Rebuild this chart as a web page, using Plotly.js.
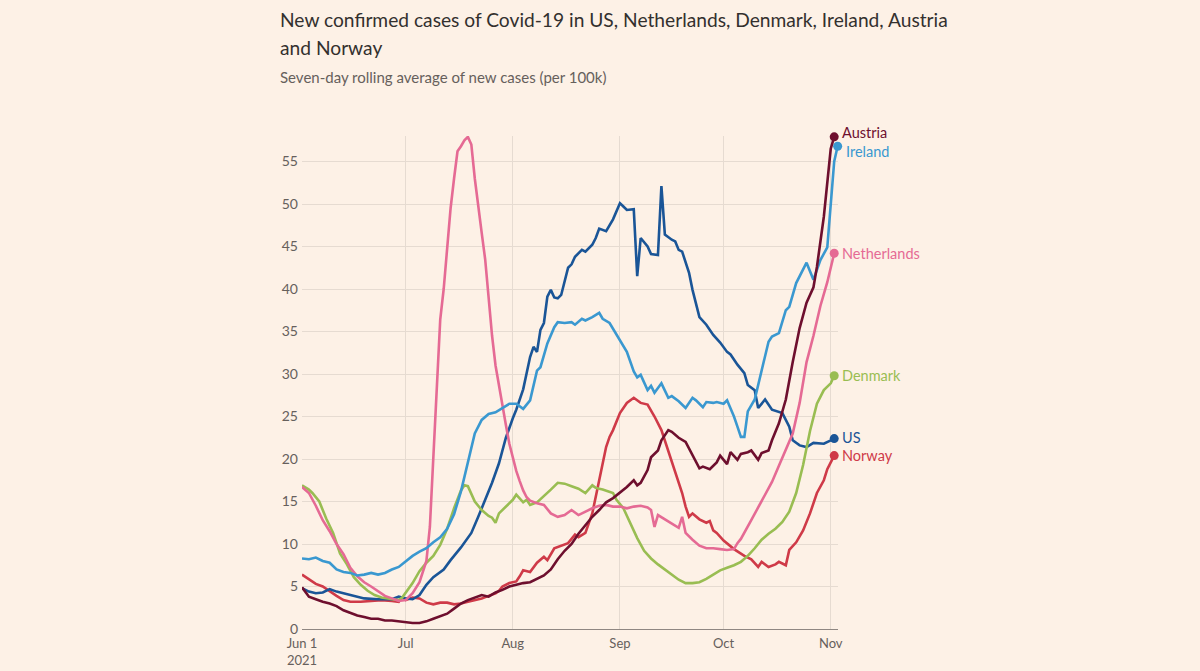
<!DOCTYPE html>
<html>
<head>
<meta charset="utf-8">
<script src="https://cdn.plot.ly/plotly-3.0.1.min.js"></script>
<style>
  html, body { margin: 0; padding: 0; background: #fdf1e6; }
  #chart { width: 1200px; height: 671px; }
</style>
</head>
<body>
<div id="chart"></div>
<script>
// ---- Data: day offsets from 2021-06-01 and seven-day average cases per 100k ----
const startDate = '2021-06-01';

const usDays = [0,2,4,6,8,10,12,15,18,22,26,28,30,32,34,36,38,41,43,46,49,51,53,55,57,59,61,62,64,65,66,67,68,69,70,71,72,73,74,75,77,78,79,81,82,84,85,86,88,90,92,93,94,96,97,98,100,101,103,104,105,107,108,109,110,112,113,115,117,119,121,123,124,126,128,129,131,132,134,136,139,141,142,144,146,148,151,153,154];
const usVals = [4.8,4.4,4.2,4.3,4.7,4.4,4.2,3.9,3.6,3.5,3.5,3.8,3.6,3.5,4.0,5.2,6.1,7.0,8.1,9.6,11.3,13.2,15.2,17.2,19.5,22.5,24.8,25.8,28.2,30.1,32.0,33.2,32.6,35.2,36.0,39.1,39.9,39.0,38.9,39.3,42.5,42.9,43.8,44.6,44.4,45.2,46.0,47.1,46.8,48.2,50.1,49.7,49.3,49.4,41.5,46.0,45.0,44.1,44.0,52.1,46.4,45.8,45.6,44.6,44.4,41.9,39.9,36.7,35.8,34.6,33.7,32.6,32.3,31.1,30.1,28.7,28.1,26.0,27.0,25.8,25.4,23.8,22.2,21.6,21.4,21.9,21.8,22.2,22.4];

const irelandDays = [0,2,4,6,8,10,12,14,16,18,20,22,24,26,28,30,32,34,36,38,40,42,44,46,48,50,52,54,56,58,60,62,64,66,68,69,71,73,74,76,78,79,81,82,84,86,87,89,92,94,96,97,98,100,101,102,104,106,107,109,111,113,114,116,117,119,120,122,123,125,126,127,128,129,131,133,135,136,138,140,141,143,146,148,150,152,153,154,155];
const irelandVals = [8.3,8.2,8.4,8.0,7.8,7.0,6.7,6.6,6.3,6.4,6.6,6.4,6.6,7.0,7.3,8.0,8.6,9.1,9.5,10.2,10.8,11.8,13.5,16.2,19.5,23.0,24.6,25.3,25.5,26.0,26.5,26.5,25.9,26.9,30.4,30.8,33.6,35.5,36.1,36.0,36.1,35.8,36.5,36.3,36.7,37.2,36.5,36.0,34.0,32.6,30.3,29.6,29.9,28.1,28.6,27.8,28.9,27.2,27.4,26.8,26.0,27.2,26.9,26.1,26.7,26.6,26.7,26.5,26.9,25.0,23.8,22.6,22.6,25.6,27.0,30.5,33.8,34.4,34.8,37.5,37.9,40.7,43.1,41.1,43.4,44.9,50.0,55.0,56.8];

const netherlandsDays = [0,2,4,6,8,10,12,14,16,18,20,22,24,26,28,30,32,34,36,37,38,39,40,41,42,43,44,45,46,47,48,49,50,51,52,53,54,55,56,57,58,59,60,61,62,63,64,65,66,68,70,72,74,76,78,80,82,84,86,88,90,92,94,96,98,100,101,102,103,105,107,109,110,111,113,115,117,119,121,123,125,126,127,128,130,132,134,136,138,140,142,144,146,148,150,152,154];
const netherlandsVals = [16.7,16.0,14.5,12.8,11.5,10.0,8.8,7.2,6.2,5.5,5.0,4.4,3.9,3.6,3.3,3.4,4.2,5.5,8.0,12.0,20.0,28.0,36.4,40.0,45.0,49.5,53.0,56.2,56.8,57.5,57.9,57.0,53.0,49.5,46.6,43.5,39.0,34.5,31.0,28.5,26.0,24.0,21.8,20.0,18.6,17.4,16.3,15.5,15.1,14.8,14.6,13.6,13.2,13.4,14.0,13.4,13.8,14.2,14.5,14.6,14.4,14.4,14.2,14.4,14.5,14.3,14.0,12.0,13.4,12.9,12.5,11.9,13.2,11.3,10.5,9.8,9.5,9.5,9.4,9.3,9.4,10.1,10.6,11.3,12.8,14.3,15.8,17.3,19.2,21.0,23.0,26.6,31.4,34.5,38.0,40.8,44.2];

const denmarkDays = [0,2,3,5,7,9,11,13,15,17,19,21,23,26,28,29,30,32,34,36,38,40,42,44,46,47,48,49,50,52,54,55,56,57,59,61,62,64,65,66,68,70,72,74,76,78,80,82,84,85,87,90,91,93,95,97,99,101,103,105,107,109,111,113,115,117,119,121,123,125,127,129,131,133,135,137,139,141,143,145,147,149,151,153,154];
const denmarkVals = [16.9,16.4,16.0,15.0,13.0,11.3,8.9,7.6,6.1,5.2,4.5,4.0,3.7,3.5,3.4,3.7,4.3,5.4,6.8,7.8,8.6,9.9,11.8,14.2,16.3,16.9,16.8,15.9,15.0,14.0,13.3,13.1,12.5,13.6,14.4,15.2,15.8,14.9,15.2,14.6,14.9,15.6,16.4,17.2,17.1,16.8,16.5,16.0,16.9,16.6,16.4,16.0,15.2,14.2,12.4,10.7,9.2,8.3,7.6,7.0,6.4,5.8,5.4,5.4,5.5,5.9,6.4,6.9,7.2,7.5,7.9,8.6,9.5,10.5,11.2,11.8,12.6,13.8,16.0,19.3,23.3,26.5,28.1,28.9,29.8];

const austriaDays = [0,2,4,6,8,10,12,14,16,18,20,22,24,26,28,30,32,34,36,38,40,42,44,46,48,50,52,54,56,58,60,62,64,66,68,70,72,74,76,78,80,82,84,86,88,90,92,94,96,97,98,100,101,103,104,106,107,109,111,113,115,116,118,120,121,123,124,126,127,129,130,132,133,135,136,138,140,142,144,146,148,149,151,153,154];
const austriaVals = [4.9,3.8,3.5,3.2,3.0,2.7,2.2,1.9,1.6,1.4,1.2,1.2,1.0,1.0,0.9,0.8,0.7,0.7,0.9,1.2,1.5,1.8,2.4,3.0,3.4,3.7,4.0,3.8,4.3,4.6,5.0,5.2,5.4,5.5,5.9,6.3,7.0,8.2,9.2,10.0,11.2,12.2,13.2,14.0,14.9,15.4,16.0,16.7,17.5,16.9,17.2,18.7,20.2,21.0,22.2,23.4,23.2,22.5,22.0,20.5,18.9,19.1,18.8,19.6,20.4,19.4,20.8,19.9,20.6,20.8,21.0,19.9,20.7,21.0,22.2,24.2,27.0,31.4,35.4,38.4,40.2,42.6,48.5,56.5,57.9];

const norwayDays = [0,2,4,6,8,10,12,14,17,20,23,26,28,29,30,32,34,36,38,40,42,44,46,48,50,52,54,56,57,58,60,62,63,64,66,68,70,71,73,75,77,79,80,82,84,86,88,89,90,92,94,96,98,100,102,104,106,108,110,111,112,113,115,117,118,119,120,122,125,128,130,132,133,135,137,138,140,141,143,145,147,149,151,152,154];
const norwayVals = [6.4,5.8,5.3,5.0,4.4,3.9,3.4,3.2,3.2,3.3,3.4,3.3,3.2,3.7,3.4,3.7,3.6,3.1,2.9,3.1,3.1,2.9,3.0,3.2,3.4,3.6,3.9,4.2,4.5,5.0,5.4,5.6,6.2,6.9,6.7,7.8,8.5,8.1,9.5,9.8,10.1,11.1,10.8,11.3,13.6,17.5,21.4,22.6,23.4,25.4,26.6,27.2,26.6,26.4,25.0,23.4,21.0,18.5,16.0,14.4,13.2,13.6,12.9,12.5,12.7,11.6,11.3,10.4,9.4,8.6,8.2,7.3,7.9,7.3,7.6,7.9,7.5,9.3,10.2,11.6,13.6,16.0,17.5,18.8,20.4];

const seriesNames = ['Austria','Ireland','Netherlands','Denmark','US','Norway'];
const tickVals = ['2021-06-01','2021-07-01','2021-08-01','2021-09-01','2021-10-01','2021-11-01'];
const tickText = ['Jun 1<br>2021','Jul','Aug','Sep','Oct','Nov'];

// ---- Build ----
function toDate(d) {
  const t = new Date(startDate + 'T00:00:00Z').getTime() + d * 86400000;
  return new Date(t).toISOString().slice(0, 10);
}

const series = [
  {name: 'Norway',      days: norwayDays,      vals: norwayVals,      color: '#cf3a48', yshift: 0},
  {name: 'US',          days: usDays,          vals: usVals,          color: '#1a5597', yshift: 1},
  {name: 'Denmark',     days: denmarkDays,     vals: denmarkVals,     color: '#99bd52', yshift: 0},
  {name: 'Netherlands', days: netherlandsDays, vals: netherlandsVals, color: '#e56a94', yshift: 0},
  {name: 'Ireland',     days: irelandDays,     vals: irelandVals,     color: '#3a98d0', yshift: -5},
  {name: 'Austria',     days: austriaDays,     vals: austriaVals,     color: '#6e0f2e', yshift: 4}
];

const traces = [];
const annotations = [];
series.forEach(s => {
  const xs = s.days.map(toDate);
  traces.push({
    type: 'scatter', mode: 'lines', x: xs, y: s.vals, name: s.name,
    line: {color: s.color, width: 2.6, shape: 'linear'},
    hoverinfo: 'skip', cliponaxis: false
  });
  const lx = xs[xs.length - 1], ly = s.vals[s.vals.length - 1];
  traces.push({
    type: 'scatter', mode: 'markers', x: [lx], y: [ly],
    marker: {color: s.color, size: 9}, hoverinfo: 'skip', cliponaxis: false
  });
  annotations.push({
    x: lx, y: ly, xref: 'x', yref: 'y', text: s.name, showarrow: false,
    xanchor: 'left', yanchor: 'middle', xshift: 6, yshift: s.yshift,
    font: {family: 'Lato, sans-serif', size: 14.5, color: s.color}
  });
});

// Title block (positions in paper coords relative to plot area)
const plotTop = 136, plotBottom = 629, plotLeft = 302.3, plotRight = 838;
const pyPaper = (py) => (plotBottom - py) / (plotBottom - plotTop);
const pxPaper = (px) => (px - plotLeft) / (plotRight - plotLeft);

annotations.push({
  xref: 'paper', yref: 'paper', x: pxPaper(278), y: pyPaper(19), xanchor: 'left', yanchor: 'middle',
  text: 'New confirmed cases of Covid-19 in US, Netherlands, Denmark, Ireland, Austria',
  showarrow: false, font: {family: 'Lato, sans-serif', size: 19.2, color: '#33302e'}
});
annotations.push({
  xref: 'paper', yref: 'paper', x: pxPaper(278), y: pyPaper(47), xanchor: 'left', yanchor: 'middle',
  text: 'and Norway',
  showarrow: false, font: {family: 'Lato, sans-serif', size: 19.2, color: '#33302e'}
});
annotations.push({
  xref: 'paper', yref: 'paper', x: pxPaper(278), y: pyPaper(77), xanchor: 'left', yanchor: 'middle',
  text: 'Seven-day rolling average of new cases (per 100k)',
  showarrow: false, font: {family: 'Lato, sans-serif', size: 15, color: '#66605c'}
});

const layout = {
  width: 1200, height: 671,
  paper_bgcolor: '#fdf1e6', plot_bgcolor: '#fdf1e6',
  margin: {l: plotLeft, r: 1200 - plotRight, t: plotTop, b: 671 - plotBottom},
  showlegend: false,
  font: {family: 'Lato, sans-serif', color: '#66605c'},
  xaxis: {
    type: 'date', range: ['2021-06-01', '2021-11-03 02:24'],
    tickmode: 'array', tickvals: tickVals, ticktext: tickText,
    showgrid: true, gridcolor: '#e6dbd1', gridwidth: 1,
    zeroline: false, showline: false, ticks: '', ticklabelstandoff: 5,
    tickfont: {size: 13, color: '#66605c'}, fixedrange: true
  },
  yaxis: {
    range: [0, 58], tick0: 0, dtick: 5,
    showgrid: true, gridcolor: '#e6dbd1', gridwidth: 1,
    zeroline: true, zerolinecolor: '#8f8782', zerolinewidth: 1,
    showline: false, ticks: '', ticklabelstandoff: 3,
    tickfont: {size: 14, color: '#66605c'}, fixedrange: true
  },
  annotations: annotations
};

Plotly.newPlot('chart', traces, layout, {displayModeBar: false, staticPlot: true});
</script>
</body>
</html>
